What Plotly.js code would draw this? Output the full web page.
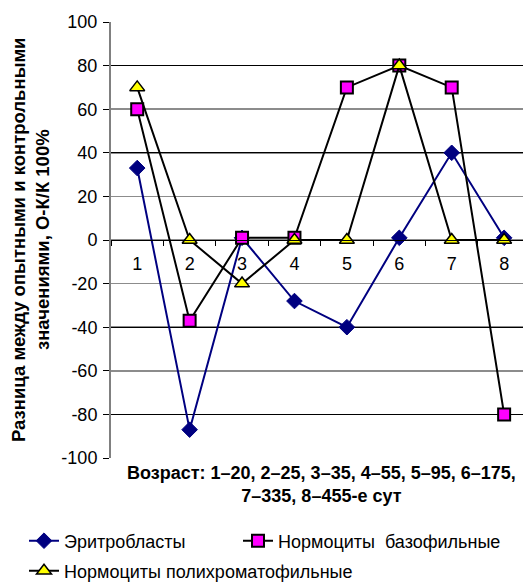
<!DOCTYPE html>
<html>
<head>
<meta charset="utf-8">
<script src="https://cdn.plot.ly/plotly-3.0.1.min.js"></script>
<style>
  html, body { margin: 0; padding: 0; background: #fff; }
  #chart { width: 523px; height: 584px; }
</style>
</head>
<body>
<div id="chart"></div>
<script>
// Age groups (1–20, 2–25, ... 8–455 days)
const ageGroups = [1, 2, 3, 4, 5, 6, 7, 8];
const ageLabels = ['1', '2', '3', '4', '5', '6', '7', '8'];

// Difference between experimental and control values, (O-K)/K·100%
const erythroblasts = [33, -87, 1, -28, -40, 1, 40, 1];
const basophilicNormocytes = [60, -37, 1, 1, 70, 80, 70, -80];
const polychromaticNormocytes = [70, 0, -20, 0, 0, 80, 0, 0];

const seriesNames = ['Эритробласты', 'Нормоциты  базофильные', 'Нормоциты полихроматофильные'];

const yTicks = [-100, -80, -60, -40, -20, 0, 20, 40, 60, 80, 100];
const yTickText = ['-100', '-80', '-60', '-40', '-20', '0', '20', '40', '60', '80', '100'];

const FONT = 'Arial, "Liberation Sans", sans-serif';

const PLOT_LEFT = 111, PLOT_WIDTH = 412;
const toPaperX = px => (px - PLOT_LEFT) / PLOT_WIDTH;

const traces = [
  {
    x: ageGroups, y: erythroblasts, name: seriesNames[0],
    type: 'scatter', mode: 'lines+markers',
    line: { color: '#000080', width: 2 },
    marker: { symbol: 'diamond', size: 12, color: '#000080', line: { color: '#000080', width: 1 } },
    legend: 'legend'
  },
  {
    x: ageGroups, y: basophilicNormocytes, name: seriesNames[1],
    type: 'scatter', mode: 'lines+markers',
    line: { color: '#000000', width: 2 },
    marker: { symbol: 'square', size: 12, color: '#ff00ff', line: { color: '#000000', width: 2 } },
    legend: 'legend2'
  },
  {
    x: ageGroups, y: polychromaticNormocytes, name: seriesNames[2],
    type: 'scatter', mode: 'lines+markers',
    line: { color: '#000000', width: 2 },
    marker: { symbol: 'triangle-up', size: 13, color: '#ffff00', line: { color: '#000000', width: 1.5 } },
    legend: 'legend3'
  }
];

function legendAt(px, py) {
  return {
    xref: 'container', yref: 'container',
    x: px / 523, y: 1 - py / 584, xanchor: 'left', yanchor: 'middle',
    orientation: 'h', borderwidth: 0,
    font: { family: FONT, size: 18, color: '#000' },
    bgcolor: 'rgba(0,0,0,0)'
  };
}

const layout = {
  width: 523, height: 584,
  margin: { l: PLOT_LEFT, r: 0, t: 22, b: 126 },
  paper_bgcolor: '#ffffff', plot_bgcolor: '#ffffff',
  font: { family: FONT, size: 17, color: '#000' },
  showlegend: true,
  xaxis: {
    range: [0.5, 8.36],
    tickmode: 'array', tickvals: ageGroups, ticktext: ageLabels,
    anchor: 'free', position: 0.5,
    showline: true, linecolor: '#000', linewidth: 1,
    showgrid: false, zeroline: false,
    ticks: '', ticklabelstandoff: 7,
    tickfont: { family: FONT, size: 18, color: '#000' },
    minor: { tick0: 0.5, dtick: 1, ticks: 'outside', ticklen: 5, tickcolor: '#000', showgrid: false }
  },
  yaxis: {
    range: [-100, 100],
    tickmode: 'array', tickvals: yTicks, ticktext: yTickText,
    showline: true, linecolor: '#808080', linewidth: 2,
    ticks: 'outside', ticklen: 6, tickcolor: '#000', ticklabelstandoff: 2,
    showgrid: true, gridcolor: '#8c8c8c', gridwidth: 1.5,
    zeroline: false,
    tickfont: { family: FONT, size: 18, color: '#000' }
  },
  // Black lines every 40 units, drawn over the grey 20-unit grid
  yaxis2: {
    overlaying: 'y', range: [-100, 100], dtick: 40, tick0: 0,
    showticklabels: false, ticks: '', showline: false,
    showgrid: true, gridcolor: '#000000', gridwidth: 1, zeroline: false
  },
  legend: legendAt(24, 541),
  legend2: legendAt(238, 541),
  legend3: legendAt(24, 571),
  annotations: [
    {
      xref: 'paper', yref: 'paper', x: toPaperX(321), y: 0, yshift: -3, xanchor: 'center', yanchor: 'top',
      text: '<b>Возраст: 1–20, 2–25, 3–35, 4–55, 5–95, 6–175,<br>7–335, 8–455-е сут</b>',
      showarrow: false, align: 'center',
      font: { family: FONT, size: 18, color: '#000' }
    },
    {
      xref: 'paper', yref: 'paper', x: toPaperX(18), y: 0.5, xanchor: 'center', yanchor: 'middle',
      text: '<b>Разница между опытными и контрольными</b>', textangle: -90,
      showarrow: false, font: { family: FONT, size: 18.5, color: '#000' }
    },
    {
      xref: 'paper', yref: 'paper', x: toPaperX(42), y: 0.5, xanchor: 'center', yanchor: 'middle',
      text: '<b>значениями, О-К/К 100%</b>', textangle: -90,
      showarrow: false, font: { family: FONT, size: 18.5, color: '#000' }
    }
  ]
};

traces.unshift({ x: [ageGroups[0]], y: [0], yaxis: 'y2', mode: 'markers', marker: { opacity: 0 }, showlegend: false, hoverinfo: 'skip' });

Plotly.newPlot('chart', traces, layout, { displayModeBar: false, staticPlot: true });
</script>
</body>
</html>
